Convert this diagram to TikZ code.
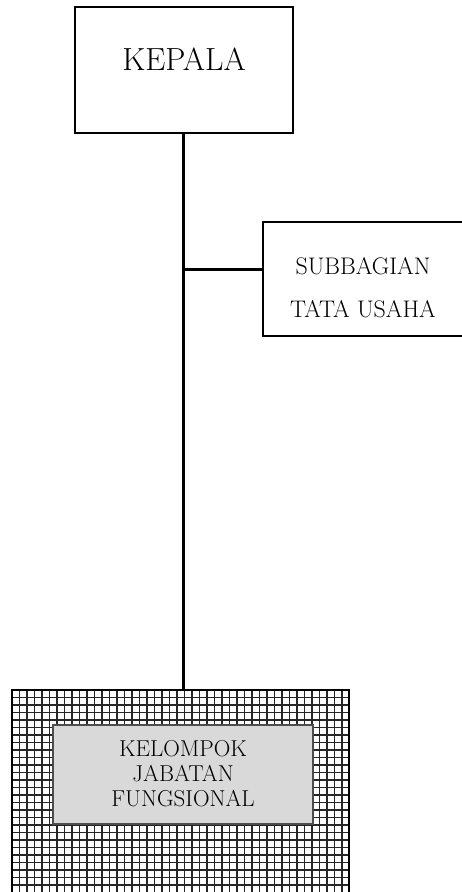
\documentclass[tikz,border=0pt]{standalone}
\usetikzlibrary{calc}
\definecolor{innergray}{HTML}{D9D9D9}
\tikzset{
  orgbox/.style={draw=black, line width=1.8pt, fill=white, inner sep=0pt},
  conn/.style={line width=3pt},
  lbl/.style={inner sep=0pt, anchor=center},
}
\begin{document}
\begin{tikzpicture}[x=1pt,y=1pt]
\useasboundingbox (0,0) rectangle (462,-892);
\clip (0,0) rectangle (462,-892);
% KEPALA
\node[orgbox, minimum width=218pt, minimum height=126pt] (kepala) at (184,-70) {};
\node[lbl, font=\fontsize{32}{36}\selectfont] (kepalatxt) at (184,-59) {KEPALA};
% SUBBAGIAN
\node[orgbox, minimum width=204pt, minimum height=114pt] (sub) at (365,-279) {};
\node[lbl, font=\fontsize{24}{28}\selectfont] (subtxt1) at (363,-266) {SUBBAGIAN};
\node[lbl, font=\fontsize{24}{28}\selectfont] (subtxt2) at (363,-309) {TATA USAHA};
% KELOMPOK (outer hatched box)
\coordinate (jfNW) at (12,-690);
\coordinate (jfSE) at (349,-900);
\fill[white] (jfNW) rectangle (jfSE);
\begin{scope}
\clip (jfNW) rectangle (jfSE);
\draw[line width=1.9pt, black!85, shift={(12,-690)}, step=7.5pt] (0,-215) grid (340,0);
\end{scope}
\draw[line width=1.8pt] (jfNW) rectangle (jfSE);
\node[draw=black!70, line width=1.3pt, fill=innergray, minimum width=260pt, minimum height=99pt, inner sep=0pt] (jf) at (183,-774.5) {};
\node[lbl, font=\fontsize{23}{25}\selectfont] (jft1) at (183,-749) {KELOMPOK};
\node[lbl, font=\fontsize{23}{25}\selectfont] (jft2) at (183,-774) {JABATAN};
\node[lbl, font=\fontsize{23}{25}\selectfont] (jft3) at (183,-799) {FUNGSIONAL};
% connectors
\coordinate (top) at (183,-690);
\coordinate (junction) at (183,-269);
\draw[conn] (kepala.south -| top) -- (top);
\draw[conn] (junction) -- (sub.west |- junction);
\end{tikzpicture}
\end{document}
